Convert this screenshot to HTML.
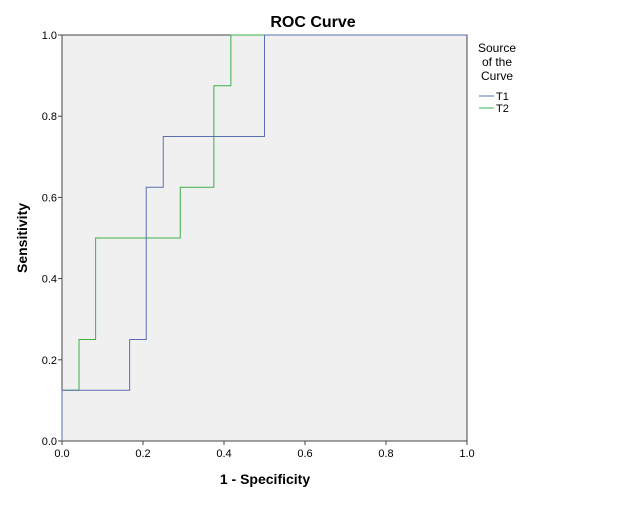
<!DOCTYPE html>
<html><head><meta charset="utf-8">
<style>
body{margin:0;background:#fff;width:626px;height:501px;overflow:hidden;font-family:"Liberation Sans",Arial,sans-serif;}
</style></head>
<body>
<svg id="chart" width="626" height="501" xmlns="http://www.w3.org/2000/svg">
<text x="313" y="27" text-anchor="middle" font-size="16" font-weight="bold" fill="#000">ROC Curve</text>
<rect x="62" y="35" width="405" height="406" fill="#f0f0f0" stroke="#444" stroke-width="1"/>
<g id="ticks"></g>
<g id="series"></g>
<text x="265" y="484" text-anchor="middle" font-size="14" font-weight="bold">1 - Specificity</text>
<text transform="translate(27,238) rotate(-90)" text-anchor="middle" font-size="14" font-weight="bold">Sensitivity</text>
<g font-size="12" fill="#000">
<text x="497" y="52" text-anchor="middle">Source</text>
<text x="497" y="66" text-anchor="middle">of the</text>
<text x="497" y="80" text-anchor="middle">Curve</text>
<line x1="479" y1="96" x2="494" y2="96" stroke="#5a6fb0"/>
<text x="496" y="100" font-size="11">T1</text>
<line x1="479" y1="108" x2="494" y2="108" stroke="#3cb04a"/>
<text x="496" y="112" font-size="11">T2</text>
</g>
</svg>
<script>
const tickValues=[0,0.2,0.4,0.6,0.8,1.0];
const tickLabels=["0.0","0.2","0.4","0.6","0.8","1.0"];
const t1FPR=[0,0,0.167,0.167,0.208,0.208,0.25,0.25,0.5,0.5,1];
const t1TPR=[0,0.125,0.125,0.25,0.25,0.625,0.625,0.75,0.75,1,1];
const t2FPR=[0,0,0.042,0.042,0.083,0.083,0.292,0.292,0.375,0.375,0.417,0.417,1];
const t2TPR=[0,0.125,0.125,0.25,0.25,0.5,0.5,0.625,0.625,0.875,0.875,1,1];
const X0=62,X1=467,Y0=441,Y1=35;
function sx(v){return X0+v*(X1-X0);}
function sy(v){return Y0-v*(Y0-Y1);}
const NS="http://www.w3.org/2000/svg";
const tg=document.getElementById('ticks');
tickValues.forEach((v,i)=>{
  let l=document.createElementNS(NS,'line');
  
  
  l.setAttribute('x1',sx(v));l.setAttribute('x2',sx(v));l.setAttribute('y1',Y0);l.setAttribute('y2',Y0+4);l.setAttribute('stroke','#444');tg.appendChild(l);
  let t=document.createElementNS(NS,'text');
  
  
  t.setAttribute('x',sx(v));t.setAttribute('y',Y0+16);t.setAttribute('text-anchor','middle');t.setAttribute('font-size','11');t.textContent=tickLabels[i];tg.appendChild(t);
  let l2=document.createElementNS(NS,'line');
  
  
  l2.setAttribute('x1',X0-4);l2.setAttribute('x2',X0);l2.setAttribute('y1',sy(v));l2.setAttribute('y2',sy(v));l2.setAttribute('stroke','#444');tg.appendChild(l2);
  let t2=document.createElementNS(NS,'text');
  
  
  t2.setAttribute('x',X0-5);t2.setAttribute('y',sy(v)+4);t2.setAttribute('text-anchor','end');t2.setAttribute('font-size','11');t2.textContent=tickLabels[i];tg.appendChild(t2);
});
const sg=document.getElementById('series');
function draw(xs,ys,color,name){
  let p=document.createElementNS(NS,'polyline');
  
  
  p.setAttribute('points',xs.map((x,i)=>sx(x)+','+sy(ys[i])).join(' '));
  p.setAttribute('fill','none');p.setAttribute('stroke',color);p.setAttribute('stroke-width','1');
  sg.appendChild(p);
}
draw(t2FPR,t2TPR,'#3cb04a','t2-curve');
draw(t1FPR,t1TPR,'#5a6fb0','t1-curve');
</script>
</body></html>
